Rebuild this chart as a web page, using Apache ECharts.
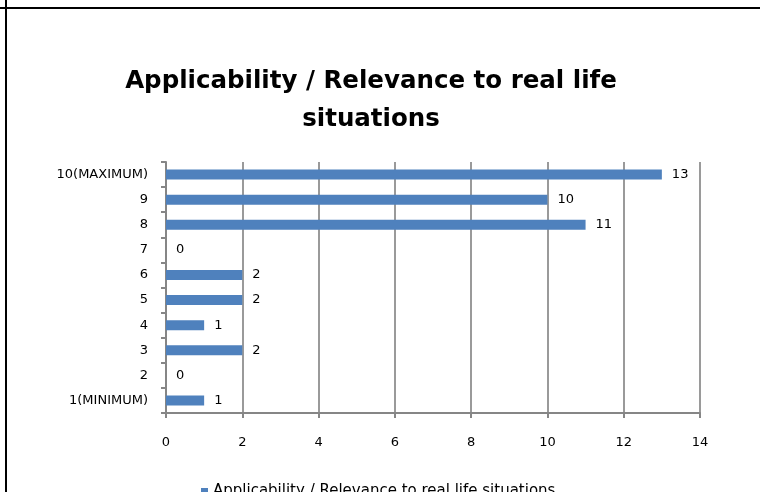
<!DOCTYPE html>
<html><head><meta charset="utf-8">
<script src="https://cdn.jsdelivr.net/npm/echarts@6/dist/echarts.min.js"></script>
<style>html,body{margin:0;padding:0;background:#fff}#c{width:760px;height:492px}</style>
</head><body><div id="c"></div>
<script>
var categories = ['1(MINIMUM)', '2', '3', '4', '5', '6', '7', '8', '9', '10(MAXIMUM)'];
var values = [1, 0, 2, 1, 2, 2, 0, 11, 10, 13];
var seriesName = 'Applicability / Relevance to real life situations';
var titleText = 'Applicability / Relevance to real life\nsituations';
var xMin = 0, xMax = 14, xStep = 2;

var FONT = 'DejaVu Sans';
var chart = echarts.init(document.getElementById('c'), null, {renderer: 'canvas'});
chart.setOption({
  animation: false,
  backgroundColor: '#fff',
  title: {
    text: titleText, left: 366, top: 58, textAlign: 'center',
    textStyle: {fontFamily: FONT, fontWeight: 'bold', fontSize: 24.5, color: '#000', lineHeight: 38}
  },
  graphic: [
    {type: 'line', shape: {x1: 0, y1: 8, x2: 760, y2: 8}, style: {stroke: '#000', lineWidth: 2}},
    {type: 'line', shape: {x1: 6, y1: 0, x2: 6, y2: 492}, style: {stroke: '#000', lineWidth: 2}}
  ],
  legend: {
    data: [seriesName], left: 196, top: 479, itemWidth: 7, itemHeight: 7, itemGap: 4,
    icon: 'rect', textStyle: {fontFamily: FONT, fontSize: 15, color: '#000'}
  },
  grid: {left: 166, right: 60, top: 162, bottom: 79, containLabel: false},
  xAxis: {
    type: 'value', min: xMin, max: xMax, interval: xStep,
    axisLine: {show: true, lineStyle: {color: '#868686', width: 2}},
    axisTick: {show: true, length: 5, lineStyle: {color: '#868686', width: 2}},
    axisLabel: {margin: 23, fontFamily: FONT, fontSize: 13, color: '#000'},
    splitLine: {show: true, lineStyle: {color: '#9a9a9a', width: 2}}
  },
  yAxis: {
    type: 'category', data: categories,
    axisLine: {show: true, lineStyle: {color: '#868686', width: 2}},
    axisTick: {show: true, length: 5, lineStyle: {color: '#868686', width: 2}},
    axisLabel: {margin: 18, fontFamily: FONT, fontSize: 13, color: '#000'}
  },
  series: [{
    name: seriesName, type: 'bar', data: values, barWidth: 10,
    itemStyle: {color: '#4F81BD'},
    label: {show: true, position: 'right', distance: 10, fontFamily: FONT, fontSize: 13, color: '#000'}
  }]
});
</script></body></html>
